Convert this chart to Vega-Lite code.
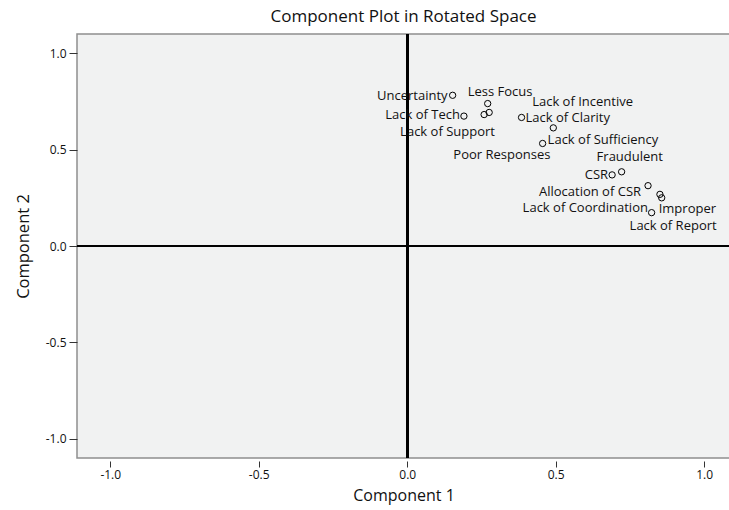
{
  "$schema": "https://vega.github.io/schema/vega-lite/v6.json",
  "width": 653,
  "height": 424,
  "autosize": "none",
  "padding": {"left": 77, "top": 34, "right": 0, "bottom": 52},
  "background": "white",
  "config": {
    "font": "Open Sans",
    "view": {"stroke": "#8f8f8f", "strokeWidth": 1.5, "fill": "#f1f2f2"},
    "text": {"font": "Open Sans", "fontSize": 13, "color": "#111", "baseline": "middle"}
  },
  "title": {"text": "Component Plot in Rotated Space", "fontSize": 17, "font": "Open Sans", "fontWeight": "normal", "color": "#111", "offset": 7, "anchor": "middle"},
  "data": {"values": [
    {"name": "Uncertainty", "c1": 0.153, "c2": 0.782},
    {"name": "Less Focus", "c1": 0.271, "c2": 0.739},
    {"name": "Lack of Support", "c1": 0.259, "c2": 0.682},
    {"name": "Lack of Incentive", "c1": 0.276, "c2": 0.693},
    {"name": "Lack of Tech", "c1": 0.191, "c2": 0.674},
    {"name": "Lack of Clarity", "c1": 0.385, "c2": 0.667},
    {"name": "Poor Responses", "c1": 0.492, "c2": 0.613},
    {"name": "Lack of Sufficiency", "c1": 0.456, "c2": 0.532},
    {"name": "CSR", "c1": 0.690, "c2": 0.369},
    {"name": "Fraudulent", "c1": 0.722, "c2": 0.385},
    {"name": "Allocation of CSR", "c1": 0.811, "c2": 0.313},
    {"name": "Lack of Coordination", "c1": 0.851, "c2": 0.268},
    {"name": "Improper", "c1": 0.857, "c2": 0.250},
    {"name": "Lack of Report", "c1": 0.823, "c2": 0.173}
  ]},
  "encoding": {
    "x": {"field": "c1", "type": "quantitative", "scale": {"domain": [-1.112, 1.087], "nice": false, "zero": false},
      "axis": {"title": "Component 1", "values": [-1, -0.5, 0, 0.5, 1], "format": ".1f", "labelExpr": "replace(datum.label, '\u2212', '-')", "grid": false, "domain": false, "offset": 3, "tickSize": 6, "tickColor": "#333", "labelPadding": 2, "labelFontSize": 12, "labelColor": "#111", "titleFontSize": 16, "titleFontWeight": "normal", "titleColor": "#111", "titlePadding": 7}},
    "y": {"field": "c2", "type": "quantitative", "scale": {"domain": [-1.1, 1.1], "nice": false, "zero": false},
      "axis": {"title": "Component 2", "values": [-1, -0.5, 0, 0.5, 1], "format": ".1f", "labelExpr": "replace(datum.label, '\u2212', '-')", "grid": false, "domain": false, "tickSize": 8, "tickColor": "#333", "labelPadding": 3, "labelFontSize": 12, "labelColor": "#111", "titleFontSize": 16.5, "titleFontWeight": "normal", "titleColor": "#111", "titlePadding": 14}}
  },
  "layer": [
    {"mark": {"type": "rule", "color": "black", "strokeWidth": 2.2}, "encoding": {"x": {"datum": 0, "type": "quantitative"}, "y": {"value": 0}, "y2": {"value": 424}}},
    {"mark": {"type": "rule", "color": "black", "strokeWidth": 2.2}, "encoding": {"y": {"datum": 0, "type": "quantitative"}, "x": {"value": 0}, "x2": {"value": 653}}},
    {"mark": {"type": "point", "shape": "circle", "filled": false, "color": "black", "size": 40, "strokeWidth": 1, "opacity": 1}},
    {"transform": [{"filter": "datum.name === 'Uncertainty'"}], "mark": {"type": "text", "align": "right", "dx": -5, "dy": 1}, "encoding": {"text": {"field": "name"}}},
    {"transform": [{"filter": "datum.name === 'Less Focus'"}], "mark": {"type": "text", "align": "left", "dx": -20, "dy": -12}, "encoding": {"text": {"field": "name"}}},
    {"transform": [{"filter": "datum.name === 'Lack of Support'"}], "mark": {"type": "text", "align": "left", "dx": -84, "dy": 17}, "encoding": {"text": {"field": "name"}}},
    {"transform": [{"filter": "datum.name === 'Lack of Incentive'"}], "mark": {"type": "text", "align": "left", "dx": 43, "dy": -10}, "encoding": {"text": {"field": "name"}}},
    {"transform": [{"filter": "datum.name === 'Lack of Tech'"}], "mark": {"type": "text", "align": "right", "dx": -4, "dy": -1}, "encoding": {"text": {"field": "name"}}},
    {"transform": [{"filter": "datum.name === 'Lack of Clarity'"}], "mark": {"type": "text", "align": "left", "dx": 4, "dy": 1}, "encoding": {"text": {"field": "name"}}},
    {"transform": [{"filter": "datum.name === 'Poor Responses'"}], "mark": {"type": "text", "align": "left", "dx": -100, "dy": 27}, "encoding": {"text": {"field": "name"}}},
    {"transform": [{"filter": "datum.name === 'Lack of Sufficiency'"}], "mark": {"type": "text", "align": "left", "dx": 5, "dy": -3}, "encoding": {"text": {"field": "name"}}},
    {"transform": [{"filter": "datum.name === 'Fraudulent'"}], "mark": {"type": "text", "align": "left", "dx": -25, "dy": -15}, "encoding": {"text": {"field": "name"}}},
    {"transform": [{"filter": "datum.name === 'CSR'"}], "mark": {"type": "text", "align": "right", "dx": -4, "dy": 0}, "encoding": {"text": {"field": "name"}}},
    {"transform": [{"filter": "datum.name === 'Allocation of CSR'"}], "mark": {"type": "text", "align": "right", "dx": -7, "dy": 6}, "encoding": {"text": {"field": "name"}}},
    {"transform": [{"filter": "datum.name === 'Lack of Coordination'"}], "mark": {"type": "text", "align": "right", "dx": -12, "dy": 14}, "encoding": {"text": {"field": "name"}}},
    {"transform": [{"filter": "datum.name === 'Improper'"}], "mark": {"type": "text", "align": "left", "dx": -3, "dy": 11}, "encoding": {"text": {"field": "name"}}},
    {"transform": [{"filter": "datum.name === 'Lack of Report'"}], "mark": {"type": "text", "align": "left", "dx": -22, "dy": 13}, "encoding": {"text": {"field": "name"}}}
  ]
}
